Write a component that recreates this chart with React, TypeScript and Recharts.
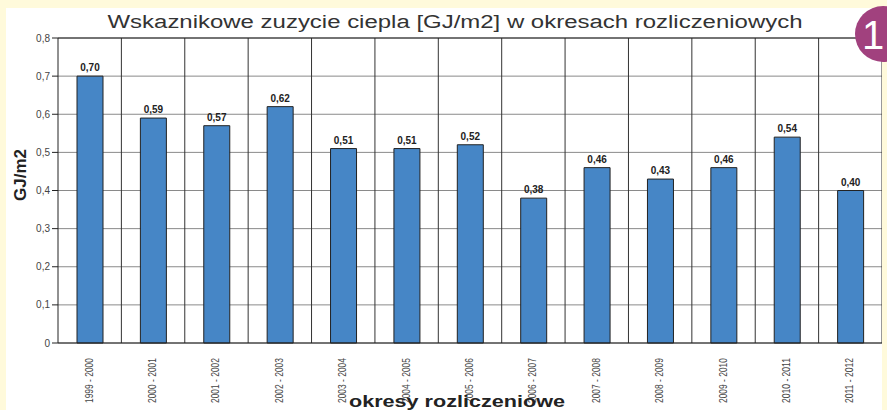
import React from 'react';
import { BarChart, Bar, XAxis, YAxis, CartesianGrid, LabelList, ReferenceLine } from 'recharts';

// Okresy rozliczeniowe (sezony grzewcze)
const periods = [
  '1999 - 2000', '2000 - 2001', '2001 - 2002', '2002 - 2003', '2003 - 2004',
  '2004 - 2005', '2005 - 2006', '2006 - 2007', '2007 - 2008', '2008 - 2009',
  '2009 - 2010', '2010 - 2011', '2011 - 2012',
];

// Wskaznikowe zuzycie ciepla [GJ/m2]
const usage = [0.7, 0.59, 0.57, 0.62, 0.51, 0.51, 0.52, 0.38, 0.46, 0.43, 0.46, 0.54, 0.4];

const yTicks = [0, 0.1, 0.2, 0.3, 0.4, 0.5, 0.6, 0.7, 0.8];

const data = periods.map((p, i) => ({ period: p, value: usage[i] }));

const fmt = (v: number) => (v === 0 ? '0' : v.toFixed(1).replace('.', ','));
const fmt2 = (v: number) => v.toFixed(2).replace('.', ',');

// Rotated category labels
const PeriodTick = (props: any) => {
  const { x, y, payload } = props;
  return (
    <text
      x={x + 3}
      y={y + 7}
      transform={`rotate(-90 ${x + 3} ${y + 7})`}
      textAnchor="end"
      fontSize={10}
      fill="#444"
      textLength={45}
      lengthAdjust="spacingAndGlyphs"
      fontFamily="Liberation Sans, Arial, sans-serif"
    >
      {payload.value}
    </text>
  );
};

const App: React.FC = () => {
  return (
    <div style={{ position: 'relative', width: 887, height: 410, background: '#FFFADB', overflow: 'hidden' }}>
      <style>{'body{margin:0}'}</style>
      {/* white panel */}
      <div style={{ position: 'absolute', left: 6, top: 8, width: 876, height: 402, background: '#fff' }} />
      <div style={{ position: 'absolute', left: 0, top: 0 }}>
        <BarChart
          width={887}
          height={410}
          data={data}
          margin={{ top: 38, right: 5, bottom: 0, left: 8 }}
          barSize={26}
          style={{ fontFamily: 'Liberation Sans, Arial, sans-serif' }}
        >
          <CartesianGrid vertical={false} stroke="#8a8a8a" strokeWidth={1} />
          <CartesianGrid
            horizontal={false}
            stroke="#333"
            strokeWidth={1}
            verticalCoordinatesGenerator={({ offset }: any) =>
              periods.map((_, k) => offset.left + (offset.width * (k + 1)) / periods.length)
            }
          />
          <XAxis
            dataKey="period"
            height={67}
            interval={0}
            tick={<PeriodTick />}
            tickLine={false}
            axisLine={{ stroke: '#222' }}
          />
          <YAxis
            width={50}
            domain={[0, 0.8]}
            ticks={yTicks}
            interval={0}
            tickFormatter={fmt}
            tick={{ fontSize: 10, fill: '#444' }}
            tickLine={{ stroke: '#222' }}
            tickSize={6}
            axisLine={{ stroke: '#222' }}
          />
          <ReferenceLine y={0.8} stroke="#222" />
          <Bar dataKey="value" fill="#4686C6" stroke="#222" strokeWidth={1} isAnimationActive={false}>
            <LabelList
              dataKey="value"
              position="top"
              offset={5}
              formatter={(v: any) => fmt2(Number(v))}
              style={{ fontSize: 10, fontWeight: 'bold', fill: '#222' }}
            />
          </Bar>
        </BarChart>
      </div>
      <svg width={887} height={410} style={{ position: 'absolute', left: 0, top: 0, pointerEvents: 'none' }}>
        <text
          x={455}
          y={28}
          textAnchor="middle"
          fontSize={18}
          fill="#333"
          fontFamily="Liberation Sans, Arial, sans-serif"
          textLength={695}
          lengthAdjust="spacingAndGlyphs"
        >
          Wskaznikowe zuzycie ciepla [GJ/m2] w okresach rozliczeniowych
        </text>
        <text
          x={26}
          y={175}
          transform="rotate(-90 26 175)"
          textAnchor="middle"
          fontSize={17}
          fontWeight="bold"
          fill="#222"
          fontFamily="Liberation Sans, Arial, sans-serif"
        >
          GJ/m2
        </text>
        <text
          x={457}
          y={407}
          textAnchor="middle"
          fontSize={17}
          fontWeight="bold"
          fill="#222"
          fontFamily="Liberation Sans, Arial, sans-serif"
          textLength={216}
          lengthAdjust="spacingAndGlyphs"
        >
          okresy rozliczeniowe
        </text>
        <rect x={882} y={8} width={5} height={402} fill="#FFFADB" />
        <circle cx={883} cy={34} r={28} fill="#A1417E" />
        <text x={873} y={49} textAnchor="middle" fontSize={40} fill="#fff" fontFamily="Liberation Sans, Arial, sans-serif">
          1
        </text>
      </svg>
    </div>
  );
};

export default App;
